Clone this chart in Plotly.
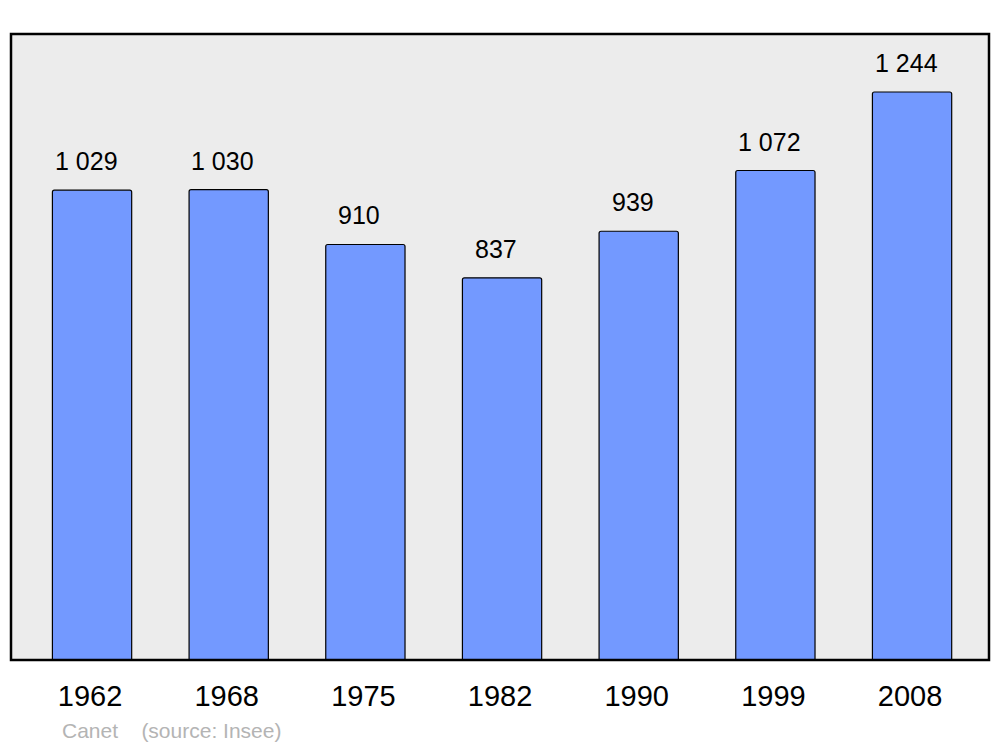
import plotly.graph_objects as go

years = ['1962', '1968', '1975', '1982', '1990', '1999', '2008']
population = [1029, 1030, 910, 837, 939, 1072, 1244]
labels = ['1 029', '1 030', '910', '837', '939', '1 072', '1 244']

c_bar = '#7399ff'
c_bg = '#ececec'
font = 'Liberation Sans, Arial, sans-serif'

xs = list(range(len(years)))

fig = go.Figure(go.Bar(
    x=xs,
    y=population,
    width=0.58,
    marker=dict(color=c_bar, line=dict(color='black', width=1.2), cornerradius=2),
    hoverinfo='skip',
))

# value labels above the bars (sit a little left of centre in the original)
for x, y, t in zip(xs, population, labels):
    fig.add_annotation(x=x, y=y, text=t, showarrow=False, yanchor='bottom', yshift=13, xshift=-6,
                       font=dict(family=font, size=25, color='black'))

fig.add_annotation(x=0.050, y=-0.112, xref='paper', yref='paper', xanchor='left', yanchor='middle',
                   text='Canet&nbsp;&nbsp;&nbsp;&nbsp;(source: Insee)', showarrow=False,
                   font=dict(family=font, size=21, color='#b4b4b4'))

# frame round the plot area
fig.add_shape(type='rect', xref='paper', yref='paper', x0=0, y0=0, x1=1, y1=1,
              line=dict(color='black', width=2.5), layer='above')

# page body has an 8px margin, so the figure is a bit smaller than the window
fig.update_layout(
    width=992, height=739,
    margin=dict(l=3, r=11, t=26, b=87, pad=0),
    paper_bgcolor='white',
    plot_bgcolor=c_bg,
    showlegend=False,
    xaxis=dict(range=[-0.593, 6.563], tickvals=xs, ticktext=years, showgrid=False, zeroline=False,
               ticks='outside', ticklen=10, tickcolor='rgba(0,0,0,0)', ticklabelshift=-2,
               tickfont=dict(family=font, size=29, color='black')),
    yaxis=dict(range=[0, 1371], showgrid=False, zeroline=False, showticklabels=False),
)

fig.write_html('out.html')
